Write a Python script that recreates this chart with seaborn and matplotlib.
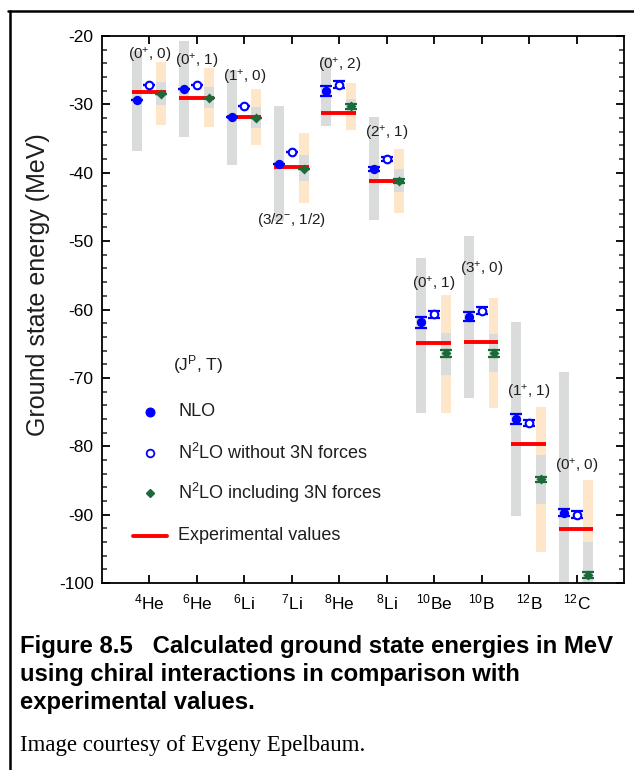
import numpy as np
import pandas as pd
import matplotlib
matplotlib.use("Agg")
import matplotlib.pyplot as plt
from matplotlib.lines import Line2D
from matplotlib.ticker import MultipleLocator
import seaborn as sns

# ---- data -------------------------------------------------------------
nuclei = [r"$^{4}$He", r"$^{6}$He", r"$^{6}$Li", r"$^{7}$Li", r"$^{8}$He",
          r"$^{8}$Li", r"$^{10}$Be", r"$^{10}$B", r"$^{12}$B", r"$^{12}$C"]
quantum = [r"(0$^{+}$, 0)", r"(0$^{+}$, 1)", r"(1$^{+}$, 0)", r"(3/2$^{-}$, 1/2)",
           r"(0$^{+}$, 2)", r"(2$^{+}$, 1)", r"(0$^{+}$, 1)", r"(3$^{+}$, 0)",
           r"(1$^{+}$, 1)", r"(0$^{+}$, 0)"]

# NLO central values, their uncertainty band and statistical error
nlo = [-29.3, -27.8, -31.9, -38.7, -28.05, -39.4, -61.9, -61.05, -76.0, -89.7]
nlo_band_hi = [-22.2, -20.7, -25.0, -30.25, -23.0, -31.85, -52.5, -49.25, -61.8, -69.1]
nlo_band_lo = [-36.8, -34.7, -38.8, -47.1, -33.1, -46.9, -75.2, -72.9, -90.2, -110.3]
nlo_err = [0.0, 0.0, 0.0, 0.0, 0.75, 0.3, 0.75, 0.7, 0.75, 0.5]

# N2LO without three-nucleon forces
n2lo_no3n = [-27.2, -27.1, -30.2, -36.9, -27.1, -38.05, -60.7, -60.2, -76.6, -90.0]
n2lo_no3n_err = [0.0, 0.0, 0.0, 0.0, 0.5, 0.3, 0.5, 0.5, 0.5, 0.5]

# N2LO including three-nucleon forces, inner and outer bands
n2lo = [-28.5, -29.0, -31.95, -39.4, -30.3, -41.2, -66.4, -66.4, -84.85, -98.8]
n2lo_err = [0.0, 0.0, 0.0, 0.0, 0.4, 0.3, 0.5, 0.5, 0.4, 0.4]
n2lo_inner_hi = [-26.7, -27.5, -30.4, -37.4, -29.2, -39.5, -63.4, -63.6, -81.3, -94.0]
n2lo_inner_lo = [-30.1, -30.5, -33.4, -41.2, -31.4, -42.8, -69.6, -69.1, -88.4, -103.6]
n2lo_outer_hi = [-23.8, -24.7, -27.8, -34.2, -26.9, -36.5, -57.9, -58.3, -74.3, -84.9]
n2lo_outer_lo = [-33.0, -33.3, -36.0, -44.4, -33.7, -45.85, -75.1, -74.4, -95.4, -112.7]

# experimental ground state energies
experiment = [-28.2, -29.1, -31.85, -39.2, -31.3, -41.25, -64.95, -64.8, -79.6, -92.1]

# ---- layout constants ---------------------------------------------------
label_y = [-22.8, -23.7, -26.1, -46.9, -24.3, -34.3, -56.3, -54.2, -72.2, -83.0]
OFF_NLO, OFF_NO3N, OFF_N2LO = -0.27, 0.0, 0.25
BAND_W = 0.21

GREY = "#d9dcda"
PEACH = "#fde6c9"
BLUE = "#0000ff"
GREEN = "#1b6b3a"
RED = "#ff0000"
TEXT = "#1e1e1e"

sns.set_theme(style="ticks")
plt.rcParams["font.family"] = ["Liberation Sans", "DejaVu Sans"]
plt.rcParams["mathtext.fontset"] = "custom"
plt.rcParams["mathtext.rm"] = "Liberation Sans"
plt.rcParams["mathtext.it"] = "Liberation Sans:italic"
plt.rcParams["mathtext.bf"] = "Liberation Sans:bold"

fig = plt.figure(figsize=(6.34, 7.70), dpi=100)
ax = fig.add_axes([102 / 634, 1 - 583 / 770, 522 / 634, 547 / 770])

x = np.arange(len(nuclei))
df = pd.DataFrame({"x": x, "nlo": nlo, "no3n": n2lo_no3n, "n2lo": n2lo})

# uncertainty bands
ax.bar(x + OFF_NLO, np.array(nlo_band_hi) - np.array(nlo_band_lo), BAND_W,
       bottom=nlo_band_lo, color=GREY, zorder=1, linewidth=0)
ax.bar(x + OFF_N2LO, np.array(n2lo_outer_hi) - np.array(n2lo_outer_lo), BAND_W,
       bottom=n2lo_outer_lo, color=PEACH, zorder=1, linewidth=0)
ax.bar(x + OFF_N2LO, np.array(n2lo_inner_hi) - np.array(n2lo_inner_lo), BAND_W,
       bottom=n2lo_inner_lo, color=GREY, zorder=2, linewidth=0)

# experimental values
ax.hlines(experiment, x + OFF_NLO - BAND_W / 2, x + OFF_N2LO + BAND_W / 2,
          color=RED, linewidth=2.8, zorder=3)

# error bars
ax.errorbar(x + OFF_NLO, nlo, yerr=nlo_err, fmt="none", ecolor=BLUE,
            elinewidth=1.6, capsize=4, capthick=1.6, zorder=4)
ax.errorbar(x + OFF_NO3N, n2lo_no3n, yerr=n2lo_no3n_err, fmt="none", ecolor=BLUE,
            elinewidth=1.6, capsize=4, capthick=1.6, zorder=4)
ax.errorbar(x + OFF_N2LO, n2lo, yerr=n2lo_err, fmt="none", ecolor=GREEN,
            elinewidth=1.6, capsize=4, capthick=1.6, zorder=4)

# central values
sns.scatterplot(x=df["x"] + OFF_NLO, y=df["nlo"], ax=ax, marker="o", s=45,
                color=BLUE, edgecolor=BLUE, linewidth=0, zorder=5, legend=False)
sns.scatterplot(x=df["x"] + OFF_NO3N, y=df["no3n"], ax=ax, marker="o", s=30,
                facecolor="white", edgecolor=BLUE, linewidth=1.5, zorder=5, legend=False)
sns.scatterplot(x=df["x"] + OFF_N2LO, y=df["n2lo"], ax=ax, marker="D", s=26,
                color=GREEN, edgecolor=GREEN, linewidth=0, zorder=5, legend=False)

# quantum numbers above each group
for xi, lab, ly in zip(x, quantum, label_y):
    ax.text(xi, ly, lab, ha="center", va="center", fontsize=11, color=TEXT, zorder=6)

ax.set_xlim(-1, 10)
ax.set_ylim(-100, -20)
ax.set_xticks(x)
ax.set_xticklabels(nuclei, fontsize=12.5)
ax.yaxis.set_minor_locator(MultipleLocator(2))
ax.set_yticks(np.arange(-100, -19, 10))
ax.set_yticklabels([f"{v:d}" for v in range(-100, -19, 10)], fontsize=12.5)
ax.set_xlabel("")
ax.set_ylabel("")
ax.tick_params(axis="both", which="major", direction="in", length=6, width=1.3,
               top=True, right=True, colors="black", labelcolor="black")
ax.tick_params(axis="y", which="minor", direction="in", length=3.5, width=1.1,
               left=True, right=True)
ax.tick_params(axis="x", which="major", pad=7)
ax.tick_params(axis="y", which="major", pad=6)
for sp in ax.spines.values():
    sp.set_visible(True)
    sp.set_linewidth(1.3)
    sp.set_color("black")
ax.grid(False)

fig.text(38 / 634, 1 - 285 / 770, "Ground state energy (MeV)", rotation=90,
         fontsize=18, ha="center", va="center", color=TEXT)

# key
ax.text(0.136, 0.3985, r"(J$^{\mathrm{P}}$, T)", transform=ax.transAxes,
        fontsize=12.5, va="center", ha="left", color=TEXT)
key = [
    (0.313, dict(marker="o", markersize=6.2, color=BLUE, markeredgecolor=BLUE, linestyle="none"), "NLO"),
    (0.237, dict(marker="o", markersize=5.5, markerfacecolor="white", markeredgecolor=BLUE,
                 markeredgewidth=1.3, linestyle="none"), r"N$^{2}$LO without 3N forces"),
    (0.164, dict(marker="D", markersize=4.5, color=GREEN, markeredgecolor=GREEN, linestyle="none"),
     r"N$^{2}$LO including 3N forces"),
]
for ky, style, text in key:
    ax.add_line(Line2D([0.092], [ky], transform=ax.transAxes, **style))
    ax.text(0.1456, ky, text, transform=ax.transAxes, fontsize=13, va="center",
            ha="left", color=TEXT)
ax.add_line(Line2D([0.0594, 0.1245], [0.0865, 0.0865], transform=ax.transAxes,
                   color=RED, linewidth=2.8))
ax.text(0.1456, 0.0865, "Experimental values", transform=ax.transAxes, fontsize=13,
        va="center", ha="left", color=TEXT)

# page frame and caption
fig.add_artist(Line2D([8 / 634, 1.0], [1 - 10.5 / 770, 1 - 10.5 / 770],
                      transform=fig.transFigure, color="black", linewidth=1.8))
fig.add_artist(Line2D([9.5 / 634, 9.5 / 634], [0.0, 1 - 10.5 / 770],
                      transform=fig.transFigure, color="black", linewidth=1.8))

caption = ["Figure 8.5   Calculated ground state energies in MeV",
           "using chiral interactions in comparison with",
           "experimental values."]
for i, line in enumerate(caption):
    fig.text(20 / 634, 1 - (647 + 28 * i) / 770, line, fontsize=17.2, fontweight="bold",
             ha="left", va="center", color="black")
fig.text(20 / 634, 1 - 745 / 770, "Image courtesy of Evgeny Epelbaum.",
         family=["Liberation Serif", "DejaVu Serif"], fontsize=16.5, ha="left", va="center",
         color="black")

fig.savefig("out.png", dpi=100)
